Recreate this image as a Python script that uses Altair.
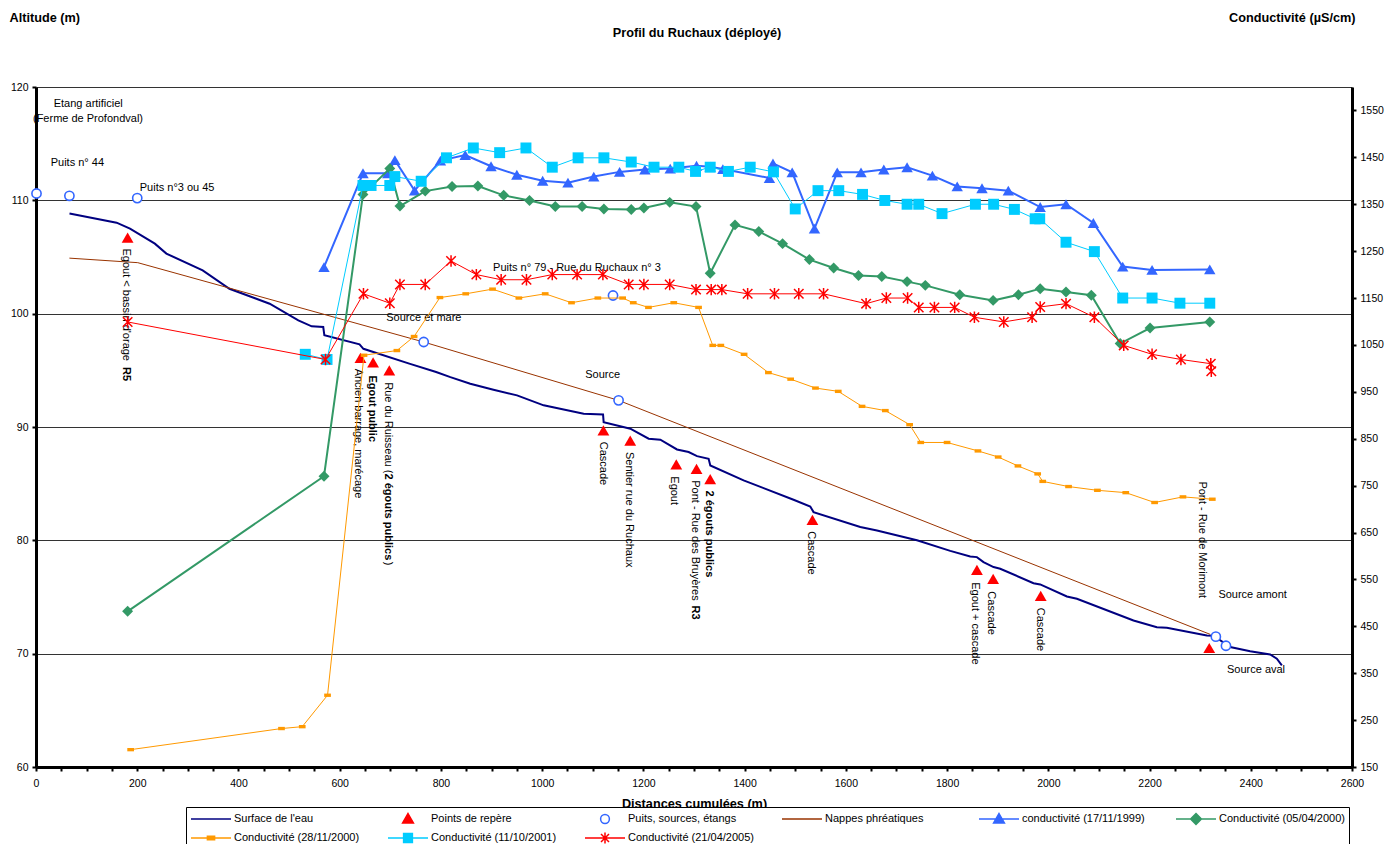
import altair as alt
import pandas as pd

FONT = "Liberation Sans"
W, H = 1316, 680

# ---------------- data ----------------
surf_x = [66.2, 159.2, 185.7, 234.8, 257.6, 329.3, 382.2, 461.6, 518.3, 544.7, 567.5, 569.7, 639.2, 646.9,
          737.5, 790.5, 818.7, 858.0, 903.8, 950.4, 1003.0, 1082.0, 1120.3, 1121.5, 1174.2, 1210.4, 1233.5,
          1266.4, 1289.4, 1306.0, 1328.9, 1332.2, 1398.0, 1496.7, 1529.7, 1536.2, 1628.5, 1661.5, 1740.5,
          1806.3, 1845.7, 1858.9, 1872.0, 1891.8, 1905.0, 1970.8, 1984.0, 2036.7, 2056.5, 2168.3, 2214.5,
          2234.2, 2313.2, 2326.4, 2359.3, 2398.8, 2438.3, 2451.5, 2461.4]
surf_y = [108.83, 108.03, 107.5, 106.18, 105.3, 103.82, 102.2, 100.88, 99.4, 98.88, 98.82, 98.09, 97.29, 96.9,
          95.59, 94.85, 94.4, 93.82, 93.29, 92.79, 91.91, 91.17, 91.11, 90.43, 89.85, 88.97, 88.88,
          88.02, 87.79, 87.43, 87.2, 86.61, 85.29, 83.58, 82.99, 82.49, 81.17, 80.87, 80.0,
          79.07, 78.58, 78.52, 78.08, 77.64, 77.49, 76.22, 76.11, 75.05, 74.85, 72.93, 72.34,
          72.29, 71.61, 71.58, 70.58, 70.22, 69.93, 69.55, 68.96]

nappe_x = [66, 201, 766, 1151, 2320]
nappe_y = [104.9, 104.5, 97.5, 92.35, 71.7]

rep_x = [181, 641, 666, 698, 1121, 1174, 1265, 1305, 1332, 1534, 1859, 1891, 1985, 2318]
rep_y = [106.7, 96.1, 95.7, 95.0, 89.7, 88.8, 86.7, 86.3, 85.4, 81.8, 77.4, 76.6, 75.1, 70.5]

puits_x = [1, 66, 200, 766, 1140, 1151, 2331, 2351]
puits_y = [110.6, 110.4, 110.2, 97.5, 101.6, 92.35, 71.5, 70.7]

c99_x = [569, 646, 695, 709, 748, 799, 848, 899, 950, 1001, 1051, 1102, 1153, 1203, 1253, 1305, 1332, 1357,
         1449, 1456, 1494, 1538, 1583, 1630, 1675, 1721, 1771, 1820, 1869, 1921, 1984, 2035, 2089, 2147, 2205, 2319]
c99_y = [1216, 1416, 1416, 1444, 1379, 1443, 1455, 1431, 1413, 1400, 1396, 1409, 1419, 1424, 1426, 1432, 1430, 1425,
         1406, 1437, 1418, 1298, 1418, 1418, 1424, 1429, 1411, 1388, 1384, 1379, 1344, 1350, 1310, 1217, 1210, 1211]

c00a_x = [181, 569, 646, 699, 719, 769, 822, 873, 924, 975, 1026, 1079, 1122, 1176, 1201, 1252, 1304, 1332, 1381,
          1428, 1475, 1528, 1576, 1625, 1671, 1721, 1757, 1825, 1891, 1941, 1984, 2035, 2085, 2142, 2201, 2319]
c00a_y = [482, 770, 1371, 1426, 1346, 1378, 1388, 1389, 1369, 1358, 1345, 1345, 1340, 1339, 1342, 1354, 1345, 1203, 1306,
          1292, 1266, 1232, 1214, 1198, 1196, 1185, 1177, 1157, 1145, 1157, 1170, 1163, 1156, 1053, 1086, 1099]

c00b_x = [187, 485, 526, 576, 648, 713, 747, 798, 849, 902, 954, 1006, 1058, 1110, 1159, 1180, 1210, 1260, 1309, 1337,
          1353, 1399, 1447, 1491, 1540, 1585, 1632, 1678, 1726, 1748, 1800, 1861, 1901, 1940, 1979, 1989, 2040, 2097,
          2153, 2210, 2266, 2324]
c00b_y = [187, 232, 236, 303, 1028, 1038, 1068, 1151, 1159, 1169, 1150, 1159, 1140, 1150, 1150, 1140, 1130, 1140, 1130, 1049,
          1049, 1030, 991, 977, 958, 951, 919, 910, 880, 842, 842, 824, 811, 792, 775, 759, 748, 740,
          735, 714, 726, 721]

c01_x = [532, 575, 646, 662, 699, 709, 761, 811, 864, 916, 968, 1020, 1071, 1122, 1176, 1221, 1270, 1303, 1332, 1368,
         1411, 1457, 1500, 1545, 1586, 1633, 1677, 1721, 1744, 1790, 1856, 1892, 1933, 1974, 1983, 2035, 2091, 2147,
         2205, 2260, 2319]
c01_y = [1030, 1019, 1390, 1390, 1390, 1409, 1399, 1449, 1470, 1460, 1470, 1429, 1449, 1449, 1440, 1429, 1429, 1420, 1429, 1420,
         1429, 1419, 1340, 1379, 1379, 1371, 1358, 1350, 1350, 1330, 1350, 1350, 1339, 1319, 1319, 1269, 1249, 1150,
         1150, 1139, 1139]

c05_x = [181, 572, 647, 699, 719, 769, 820, 870, 919, 969, 1020, 1069, 1120, 1171, 1201, 1252, 1304, 1334, 1355, 1406,
         1459, 1507, 1556, 1640, 1680, 1722, 1744, 1775, 1815, 1854, 1912, 1968, 1984, 2035, 2091, 2149, 2205, 2262,
         2321, 2322]
c05_y = [1099, 1019, 1159, 1139, 1179, 1179, 1229, 1200, 1189, 1189, 1200, 1200, 1200, 1179, 1179, 1179, 1168, 1168, 1168, 1159,
         1159, 1159, 1159, 1138, 1150, 1150, 1130, 1130, 1130, 1109, 1099, 1109, 1131, 1138, 1109, 1049, 1030, 1019,
         1010, 994]

# annotations (text, distance, altitude)
h_txt = ["Etang artificiel", "(Ferme de Profondval)", "Puits n° 44", "Puits n°3 ou 45",
         "Puits n° 79 - Rue du Ruchaux n° 3", "Source et mare", "Source", "Source amont", "Source aval"]
h_x = [35, -6, 29, 205, 903, 692, 1085, 2336, 2353]
h_y = [118.5, 117.2, 113.3, 111.1, 104.0, 99.65, 94.55, 75.15, 68.6]

r_txt = ["Egout < bassin d'orage", "Ancien barrage, marécage", "Rue du Ruisseau (", ")", "Cascade",
         "Sentier rue du Ruchaux", "Egout", "Pont - Rue des Bruyères", "Cascade", "Egout + cascade",
         "Cascade", "Cascade", "Pont - Rue de Morimont"]
r_x = [177, 636, 695.5, 695.5, 1120, 1172, 1261, 1301, 1531, 1856, 1887, 1983, 2303]
r_y = [105.75, 95.15, 93.95, 78.1, 88.7, 87.8, 85.65, 85.3, 80.8, 76.3, 75.5, 74.05, 85.2]

b_txt = ["R5", "Egout public", "2 égouts publics", "R3", "2 égouts publics"]
b_x = [177, 664, 695.5, 1301, 1329]
b_y = [95.3, 94.55, 85.9, 74.25, 84.4]

series = ["Surface de l'eau", "Points de repère", "Puits, sources, étangs", "Nappes phréatiques",
          "conductivité (17/11/1999)", "Conductivité (05/04/2000)", "Conductivité (28/11/2000)",
          "Conductivité (11/10/2001)", "Conductivité (21/04/2005)"]

# ---------------- styles ----------------
NAVY, RED, BLUE, BROWN = "#000080", "#FF0000", "#3366FF", "#993300"
GREEN, ORANGE, CYAN = "#339966", "#FF9900", "#00CCFF"
RECT = "M-1,-0.5H1V0.5H-1Z"
STAR = "M-1,-1L1,1M-1,1L1,-1M0,-1.2V1.2"

leg_shapes = [
    "M-1,0H1",
    "M0,-0.27L0.27,0.2L-0.27,0.2Z",
    "M-0.22,0A0.22,0.22 0 1,0 0.22,0A0.22,0.22 0 1,0 -0.22,0",
    "M-1,0H1",
    "M-1,0H1M0,-0.27L0.27,0.2L-0.27,0.2Z",
    "M-1,0H1M0,-0.27L0.27,0L0,0.27L-0.27,0Z",
    "M-1,0H1M-0.18,-0.09H0.18V0.09H-0.18Z",
    "M-1,0H1M-0.22,-0.22H0.22V0.22H-0.22Z",
    "M-1,0H1M-0.2,-0.2L0.2,0.2M-0.2,0.2L0.2,-0.2M0,-0.28V0.28",
]
leg_fill = [NAVY, RED, "white", BROWN, BLUE, GREEN, ORANGE, CYAN, RED]
leg_stroke = [NAVY, RED, BLUE, BROWN, BLUE, GREEN, ORANGE, CYAN, RED]

x_axis = alt.Axis(
    values=list(range(0, 2601, 50)),
    labelExpr="datum.value % 200 === 0 ? datum.label : ''",
    format="d", grid=False, labelFlush=False, labelOverlap=False,
    domainColor="black", domainWidth=3, tickColor="black", tickWidth=2, tickSize=4,
    labelFont=FONT, labelFontSize=10.5, labelColor="black", labelPadding=7,
    title="Distances cumulées (m)", titleFont=FONT, titleFontSize=12.7, titleFontWeight="bold",
    titleColor="black", titleY=36, titleBaseline="middle",
)
y_left_axis = alt.Axis(
    orient="left", values=list(range(60, 121, 10)), format="d",
    grid=True, gridColor="#333333", gridWidth=1,
    domainColor="black", domainWidth=3, tickColor="black", tickWidth=2, tickSize=4,
    labelFont=FONT, labelFontSize=10.5, labelColor="black", labelPadding=4,
    title="Altitude (m)", titleFont=FONT, titleFontSize=12.7, titleFontWeight="bold", titleColor="black",
    titleAngle=0, titleAlign="left", titleBaseline="middle", titleX=-27, titleY=-70,
)
y_right_axis = alt.Axis(
    orient="right", values=list(range(150, 1551, 100)), format="d", grid=False,
    domainColor="black", domainWidth=3, tickColor="black", tickWidth=2, tickSize=4,
    labelFont=FONT, labelFontSize=10.5, labelColor="black", labelPadding=4,
    title="Conductivité (µS/cm)", titleFont=FONT, titleFontSize=12.7, titleFontWeight="bold", titleColor="black",
    titleAngle=0, titleAlign="right", titleBaseline="middle", titleX=3, titleY=-70,
)

X = alt.X("dist:Q", scale=alt.Scale(domain=[0, 2600], nice=False, zero=False), axis=x_axis)
YA = alt.Y("alt:Q", scale=alt.Scale(domain=[60, 120], nice=False, zero=False), axis=y_left_axis)
YC = alt.Y("cond:Q", scale=alt.Scale(domain=[150, 1600], nice=False, zero=False), axis=y_right_axis)

# ---------------- altitude layers ----------------
df_surf = pd.DataFrame({"dist": surf_x, "alt": surf_y})
df_nappe = pd.DataFrame({"dist": nappe_x, "alt": nappe_y})
df_rep = pd.DataFrame({"dist": rep_x, "alt": rep_y})
df_puits = pd.DataFrame({"dist": puits_x, "alt": puits_y})
df_h = pd.DataFrame({"dist": h_x, "alt": h_y, "txt": h_txt})
df_r = pd.DataFrame({"dist": r_x, "alt": r_y, "txt": r_txt})
df_b = pd.DataFrame({"dist": b_x, "alt": b_y, "txt": b_txt})
df_leg = pd.DataFrame({"serie": series, "dist": [None] * len(series), "alt": [None] * len(series)})

surf = alt.Chart(df_surf).mark_line(color=NAVY, strokeWidth=2).encode(x=X, y=YA)
nappe = alt.Chart(df_nappe).mark_line(color=BROWN, strokeWidth=1).encode(x=X, y=YA)
rep = alt.Chart(df_rep).mark_point(shape="triangle-up", filled=True, color=RED, size=140, opacity=1).encode(x=X, y=YA)
puits = alt.Chart(df_puits).mark_point(shape="circle", filled=False, stroke=BLUE, fill="white",
                                       strokeWidth=1.6, size=85, opacity=1).encode(x=X, y=YA)
hlab = alt.Chart(df_h).mark_text(align="left", baseline="middle", font=FONT, fontSize=11, color="black").encode(
    x=X, y=YA, text="txt:N")
rlab = alt.Chart(df_r).mark_text(angle=90, align="left", baseline="middle", font=FONT, fontSize=11,
                                 color="black").encode(x=X, y=YA, text="txt:N")
blab = alt.Chart(df_b).mark_text(angle=90, align="left", baseline="middle", font=FONT, fontSize=11,
                                 fontWeight="bold", color="black").encode(x=X, y=YA, text="txt:N")

leg = alt.Legend(
    title=None, orient="none", legendX=150, legendY=720, direction="horizontal", columns=6, gridAlign="all",
    columnPadding=27, rowPadding=3, symbolSize=1600, clipHeight=16, labelFont=FONT, labelFontSize=11,
    labelColor="black", labelOffset=2, labelLimit=300, padding=4, strokeColor="black", fillColor="white",
    symbolStrokeWidth=1.5, symbolFillColor="white", symbolStrokeColor="black", symbolOpacity=1,
)
legend_layer = alt.Chart(df_leg).mark_point(filled=True, opacity=1).encode(
    x=X, y=YA,
    fill=alt.Fill("serie:N", scale=alt.Scale(domain=series, range=leg_fill), legend=leg),
    stroke=alt.Stroke("serie:N", scale=alt.Scale(domain=series, range=leg_stroke), legend=leg),
    shape=alt.Shape("serie:N", scale=alt.Scale(domain=series, range=leg_shapes), legend=leg),
)

group_alt = alt.layer(surf, nappe, rep, puits, hlab, rlab, blab, legend_layer)

# ---------------- conductivity layers ----------------
def cond_layers(xs, ys, color, width, shape, size, filled=True, stroke_w=1):
    df = pd.DataFrame({"dist": xs, "cond": ys})
    line = alt.Chart(df).mark_line(color=color, strokeWidth=width).encode(x=X, y=YC)
    if filled:
        pts = alt.Chart(df).mark_point(shape=shape, filled=True, color=color, size=size, opacity=1).encode(x=X, y=YC)
    else:
        pts = alt.Chart(df).mark_point(shape=shape, filled=False, color=color, size=size, opacity=1,
                                       strokeWidth=stroke_w).encode(x=X, y=YC)
    return [line, pts]

cl = []
cl += cond_layers(c99_x, c99_y, BLUE, 2, "triangle-up", 130)
cl += cond_layers(c00a_x, c00a_y, GREEN, 2, "diamond", 120)
cl += cond_layers(c00b_x, c00b_y, ORANGE, 1, RECT, 45)
cl += cond_layers(c01_x, c01_y, CYAN, 1, "square", 120)
cl += cond_layers(c05_x, c05_y, RED, 1, STAR, 90, filled=False, stroke_w=1.5)
group_cond = alt.layer(*cl)

chart = alt.layer(group_alt, group_cond).resolve_scale(y="independent").properties(
    width=W, height=H,
    title=alt.TitleParams("Profil du Ruchaux (déployé)", font=FONT, fontSize=12.7, fontWeight="bold",
                          color="black", anchor="middle", offset=0, dy=29, dx=3),
    padding={"left": 28, "top": 79, "right": 34, "bottom": 77},
    autosize=alt.AutoSizeParams(type="none"),
).configure_view(stroke=None).configure(background="white")

chart.save("out.html", embed_options={"renderer": "svg", "actions": False})
